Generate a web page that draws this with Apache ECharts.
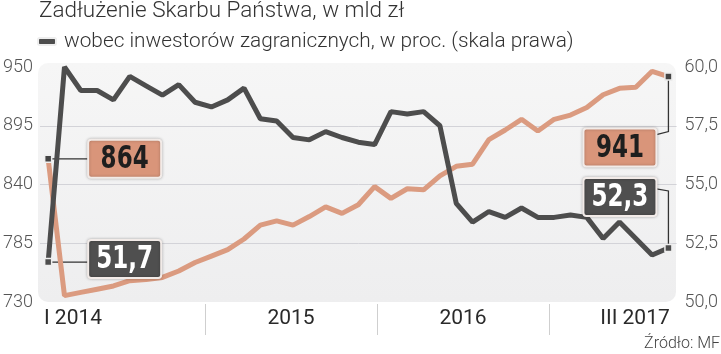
<!DOCTYPE html>
<html>
<head>
<meta charset="utf-8">
<script src="https://cdn.jsdelivr.net/npm/echarts@6/dist/echarts.min.js"></script>
<style>
  html, body { margin: 0; padding: 0; background: #fff; }
  #chart { width: 721px; height: 354px; }
</style>
</head>
<body>
<div id="chart"></div>
<script>
// miesiące I 2014 - III 2017
const romanMonths = ['I', 'II', 'III', 'IV', 'V', 'VI', 'VII', 'VIII', 'IX', 'X', 'XI', 'XII'];
const years = [2014, 2015, 2016, 2017];
const months = [];
years.forEach(function (y) {
  romanMonths.forEach(function (m) {
    if (months.length < 39) months.push(m + ' ' + y);
  });
});

const periodLabels = ['I 2014', '2015', '2016', 'III 2017'];

// zadłużenie Skarbu Państwa, mld zł (lewa oś)
const debt = [864, 736, 739, 742, 745, 750, 751, 753, 759, 767, 773, 779,
  789, 802, 806, 802, 810, 819, 813, 821, 838, 827, 836, 835,
  848, 857, 859, 882, 891, 901, 890, 901, 905, 912, 924, 930,
  931, 946, 941];

// udział inwestorów zagranicznych, % (prawa oś)
const foreignShare = [51.7, 60.0, 59.0, 59.0, 58.6, 59.6, 59.2, 58.8, 59.25, 58.5, 58.3, 58.6,
  59.1, 57.8, 57.7, 57.0, 56.9, 57.25, 57.0, 56.8, 56.7, 58.1, 58.0, 58.1,
  57.5, 54.2, 53.4, 53.85, 53.6, 54.0, 53.6, 53.6, 53.7, 53.6, 52.7, 53.4,
  52.7, 52.0, 52.3];

const SALMON = '#db9b80';
const DARK = '#4d4d4d';
const seriesName = 'wobec inwestorów zagranicznych, w proc. (skala prawa)';
const last = months.length - 1;

const endSymbol = function (value, params) {
  return (params.dataIndex === 0 || params.dataIndex === last) ? 'rect' : 'none';
};

const axisFont = { fontFamily: 'Roboto', fontSize: 18, fontWeight: 300, color: '#555', padding: [4, 0, 0, 0] };

const option = {
  animation: false,
  title: [
    {
      text: 'Zadłużenie Skarbu Państwa, w mld zł',
      left: 39, top: 0, padding: 0,
      textStyle: { fontFamily: 'Roboto', fontSize: 22.5, fontWeight: 300, color: '#333' }
    },
    {
      text: 'Źródło: MF',
      right: 1, bottom: 2, padding: 0,
      textStyle: { fontFamily: 'Roboto', fontSize: 16, fontWeight: 300, color: '#444' }
    }
  ],
  legend: {
    data: [seriesName],
    left: 37, top: 31, padding: 0,
    icon: 'roundRect',
    itemWidth: 18, itemHeight: 7, itemGap: 8,
    textStyle: { fontFamily: 'Roboto', fontSize: 20.8, fontWeight: 300, color: '#333', padding: [0, 0, 0, 3] }
  },
  grid: [
    { left: 40, right: 44, top: 67, bottom: 52 },
    { left: 33, right: 0, top: 304, height: 31 }
  ],
  xAxis: [
    {
      type: 'category', gridIndex: 0, data: months, boundaryGap: true,
      axisLine: { show: false }, axisTick: { show: false }, axisLabel: { show: false }
    },
    {
      type: 'category', gridIndex: 1, data: periodLabels, position: 'top',
      axisLine: { show: false }, axisTick: { show: false },
      splitLine: { show: true, lineStyle: { color: ['transparent', '#cfcfcf', '#cfcfcf', '#cfcfcf', 'transparent'], width: 1 } },
      axisLabel: {
        margin: -15, verticalAlign: 'middle', interval: 0,
        fontFamily: 'Roboto', fontSize: 21, color: '#2a2a2a',
        formatter: function (v, i) { return i === 0 ? '{first|' + v + '}' : v; },
        rich: { first: { fontFamily: 'Roboto', fontSize: 21, color: '#2a2a2a', padding: [0, 92, 0, 0] } }
      }
    }
  ],
  yAxis: [
    {
      type: 'value', gridIndex: 0, position: 'right',
      min: 50, max: 60, interval: 2.5,
      axisLine: { show: false }, axisTick: { show: false },
      axisLabel: Object.assign({ margin: 8, formatter: function (v) { return v.toFixed(1).replace('.', ','); } }, axisFont),
      splitLine: { lineStyle: { color: ['transparent', '#d3d3d8', '#d3d3d8', '#d3d3d8', 'transparent'] } }
    },
    {
      type: 'value', gridIndex: 0, position: 'left',
      min: 730, max: 950, alignTicks: true,
      axisLine: { show: false }, axisTick: { show: false },
      axisLabel: Object.assign({ margin: 7 }, axisFont),
      splitLine: { show: false }
    },
    {
      type: 'value', gridIndex: 1, show: false
    }
  ],
  series: [
    {
      name: 'Zadłużenie Skarbu Państwa',
      type: 'line', xAxisIndex: 0, yAxisIndex: 1,
      data: debt, clip: false,
      symbol: endSymbol, symbolSize: 7, showAllSymbol: true,
      lineStyle: { color: SALMON, width: 5 },
      itemStyle: { color: '#444', borderColor: '#eee', borderWidth: 1.5 },
      emphasis: { disabled: true }
    },
    {
      name: seriesName,
      type: 'line', xAxisIndex: 0, yAxisIndex: 0,
      data: foreignShare, clip: false,
      symbol: endSymbol, symbolSize: 7, showAllSymbol: true,
      lineStyle: { color: DARK, width: 5 },
      itemStyle: { color: DARK, borderColor: '#eee', borderWidth: 1.5 },
      emphasis: { disabled: true }
    }
  ]
};

const chart = echarts.init(document.getElementById('chart'));
chart.setOption(option);

// tło wykresu i opisy wartości skrajnych
const W = 73, H = 38;
function valueBox(x, y, text, fill, color) {
  return [
    {
      type: 'rect', z: 20,
      shape: { x: x, y: y, width: W, height: H, r: 3 },
      style: { fill: fill, stroke: '#f2ebe8', lineWidth: 2, shadowBlur: 3, shadowColor: 'rgba(0,0,0,0.25)' }
    },
    {
      type: 'text', z: 21,
      x: x + W / 2, y: y + H / 2 + 1, scaleX: 0.8,
      style: {
        text: text, x: 0, y: 0, align: 'center', verticalAlign: 'middle',
        fontFamily: 'DejaVu Sans Condensed', fontWeight: 'bold', fontSize: 32, fill: color
      }
    }
  ];
}
function connector(points) {
  return { type: 'polyline', z: 1, shape: { points: points }, style: { stroke: '#333', lineWidth: 1.3, fill: null } };
}
const fmt = function (v) { return String(v).replace('.', ','); };

const a = chart.convertToPixel({ seriesIndex: 0 }, [0, debt[0]]);
const b = chart.convertToPixel({ seriesIndex: 1 }, [0, foreignShare[0]]);
const c = chart.convertToPixel({ seriesIndex: 0 }, [last, debt[last]]);
const d = chart.convertToPixel({ seriesIndex: 1 }, [last, foreignShare[last]]);

let elements = [
  {
    type: 'rect', z: -10, silent: true,
    shape: { x: 38, y: 63, width: 638, height: 239, r: 10 },
    style: {
      fill: new echarts.graphic.LinearGradient(0, 0, 0, 1, [
        { offset: 0, color: '#f6f6f6' }, { offset: 1, color: '#eeeeef' }
      ])
    }
  },
  connector([[a[0], a[1]], [a[0] + 40, a[1]]]),
  connector([[b[0], b[1]], [b[0] + 40, b[1]]]),
  connector([[c[0], c[1]], [c[0], c[1] + 55], [c[0] - 12, c[1] + 58]]),
  connector([[d[0], d[1]], [d[0], d[1] - 57], [d[0] - 12, d[1] - 59]])
];
elements = elements
  .concat(valueBox(a[0] + 40, a[1] - 19, fmt(debt[0]), '#d9957a', '#1e1e1e'))
  .concat(valueBox(b[0] + 40, b[1] - 22, fmt(foreignShare[0]), '#4f4f4f', '#ffffff'))
  .concat(valueBox(c[0] - 85, c[1] + 52, fmt(debt[last]), '#d9957a', '#1e1e1e'))
  .concat(valueBox(d[0] - 85, d[1] - 70, fmt(foreignShare[last]), '#4f4f4f', '#ffffff'));

chart.setOption({ graphic: { elements: elements } });
</script>
</body>
</html>
